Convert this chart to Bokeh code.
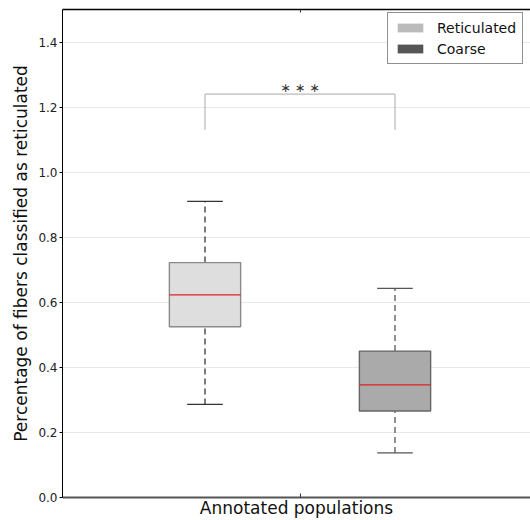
from bokeh.plotting import figure
from bokeh.models import (ColumnDataSource, LinearAxis, FixedTicker, Legend, LegendItem, Range1d,
                          NumeralTickFormatter)
from bokeh.core.properties import value
from bokeh.embed import file_html
from bokeh.resources import INLINE

# ---- data ----
categories = ["Reticulated", "Coarse"]
whisk_low = [0.286, 0.137]
q1 = [0.525, 0.266]
median = [0.623, 0.346]
q3 = [0.722, 0.450]
whisk_high = [0.910, 0.643]
sig_label = ["\u2217 \u2217 \u2217"]
bracket_top = 1.24
bracket_bottom = 1.13
y_ticks = [0.0, 0.2, 0.4, 0.6, 0.8, 1.0, 1.2, 1.4]
x_title = "Annotated populations"
y_title = "Percentage of fibers classified as reticulated"

# ---- layout / style ----
box_x = [0.6, 1.4]
box_w = 0.3
cap_w = 0.15
box_fill = ["#dedede", "#aaaaaa"]
box_line = ["#8a8a8a", "#666666"]
whisk_col = ["#333333", "#555555"]
legend_col = ["#bbbbbb", "#555555"]
FONT = "DejaVu Sans"

p = figure(width=530, height=520, output_backend="svg", toolbar_location=None,
           x_range=Range1d(0, 1.9705), y_range=Range1d(0, 1.5),
           min_border_left=62, min_border_right=0, min_border_top=9, min_border_bottom=22)
p.outline_line_color = None
p.background_fill_color = "white"

src = ColumnDataSource(dict(x=box_x, low=whisk_low, q1=q1, med=median, q3=q3, high=whisk_high,
                            fill=box_fill, line=box_line, wc=whisk_col,
                            cl=[b - cap_w / 2 for b in box_x], cr=[b + cap_w / 2 for b in box_x]))

# whiskers
p.segment(x0="x", y0="q3", x1="x", y1="high", source=src, line_color="wc", line_width=1.3, line_dash="6 4")
p.segment(x0="x", y0="low", x1="x", y1="q1", source=src, line_color="wc", line_width=1.3, line_dash="6 4")
# caps
p.segment(x0="cl", y0="high", x1="cr", y1="high", source=src, line_color="wc", line_width=1.3)
p.segment(x0="cl", y0="low", x1="cr", y1="low", source=src, line_color="wc", line_width=1.3)
# boxes
p.vbar(x="x", width=box_w, bottom="q1", top="q3", source=src, fill_color="fill", line_color="line", line_width=1.4)
# medians
p.segment(x0=[b - box_w / 2 for b in box_x], y0=median, x1=[b + box_w / 2 for b in box_x], y1=median,
          line_color="#e02020", line_width=1.2)

# significance bracket
p.line(x=[box_x[0], box_x[0], box_x[1], box_x[1]],
       y=[bracket_bottom, bracket_top, bracket_top, bracket_bottom], line_color="#aaaaaa", line_width=1)
p.text(x=[(box_x[0] + box_x[1]) / 2], y=[bracket_top], text=sig_label, y_offset=-7,
       text_align="center", text_baseline="middle", text_font=value(FONT), text_font_size="12.5px",
       text_color="#333333")

# legend dummies
r1 = p.rect(x=[float("nan")], y=[float("nan")], width=0.1, height=0.1, fill_color=legend_col[0], line_color=None)
r2 = p.rect(x=[float("nan")], y=[float("nan")], width=0.1, height=0.1, fill_color=legend_col[1], line_color=None)
legend = Legend(items=[LegendItem(label=categories[0], renderers=[r1]),
                       LegendItem(label=categories[1], renderers=[r2])],
                location=(325, 433), orientation="vertical",
                label_text_font=FONT, label_text_font_size="14px", label_text_color="#111111",
                glyph_width=32, glyph_height=11, label_height=17, label_standoff=11,
                spacing=4, padding=6, margin=0,
                border_line_color="#222222", border_line_width=1, background_fill_alpha=1)
p.add_layout(legend, "center")

# grid
p.xgrid.visible = False
p.ygrid.ticker = FixedTicker(ticks=y_ticks)
p.ygrid.grid_line_color = "#e8e8e8"
p.ygrid.grid_line_width = 1

# axes
p.yaxis.ticker = FixedTicker(ticks=y_ticks)
p.yaxis.formatter = NumeralTickFormatter(format="0.0")
p.yaxis.axis_label = y_title
p.yaxis.axis_label_text_font = FONT
p.yaxis.axis_label_text_font_size = "17px"
p.yaxis.axis_label_text_font_style = "normal"
p.yaxis.axis_label_text_color = "#111111"
p.yaxis.axis_label_standoff = 4
p.yaxis.major_label_text_font = FONT
p.yaxis.major_label_text_font_size = "12px"
p.yaxis.major_label_text_color = "#222222"
p.yaxis.major_label_standoff = 2
p.yaxis.major_tick_out = 3
p.yaxis.major_tick_in = 0
p.yaxis.minor_tick_out = 0
p.yaxis.minor_tick_in = 0
p.yaxis.axis_line_color = "black"
p.yaxis.major_tick_line_color = "black"

p.xaxis.ticker = FixedTicker(ticks=[1.0])
p.xaxis.major_label_overrides = {1.0: ""}
p.xaxis.major_label_text_font_size = "0px"
p.xaxis.major_label_standoff = 0
p.xaxis.major_tick_in = 4
p.xaxis.major_tick_out = 0
p.xaxis.minor_tick_in = 0
p.xaxis.minor_tick_out = 0
p.xaxis.axis_line_color = "#555555"
p.xaxis.axis_line_width = 2
p.xaxis.major_tick_line_color = "#333333"
p.xaxis.axis_label = x_title
p.xaxis.axis_label_text_font = FONT
p.xaxis.axis_label_text_font_size = "17px"
p.xaxis.axis_label_text_font_style = "normal"
p.xaxis.axis_label_text_color = "#111111"
p.xaxis.axis_label_standoff = 0

top = LinearAxis(ticker=FixedTicker(ticks=[1.0]), major_label_overrides={1.0: ""},
                 major_label_text_font_size="0px", major_label_standoff=0,
                 major_tick_in=3, major_tick_out=0, minor_tick_in=0, minor_tick_out=0,
                 axis_line_color="black", axis_line_width=1.5, major_tick_line_color="#333333")
p.add_layout(top, "above")

open("out.html", "w").write(file_html(p, INLINE))
